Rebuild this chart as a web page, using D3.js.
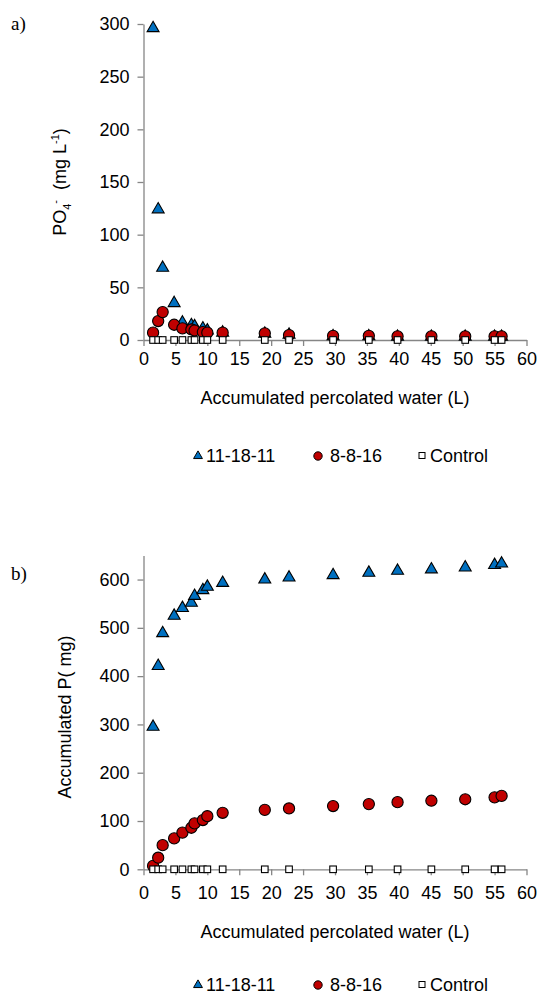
<!DOCTYPE html>
<html>
<head>
<meta charset="utf-8">
<script src="https://cdn.jsdelivr.net/npm/d3@7"></script>
<style>
  body { margin: 0; background: #fff; }
  text { font-family: Arial, "Liberation Sans", sans-serif; fill: #000; }
</style>
</head>
<body>
<div class="c_chart"></div>
<script>
/* DATA
------------------------------------------------------
*/
const water = [1.5, 2.3, 3.0, 4.8, 6.1, 7.5, 8.0, 9.3, 10.0, 12.4, 19.0, 22.8, 29.7, 35.3, 39.8, 45.1, 50.4, 55.0, 56.1];

// panel a, PO4 concentration (mg/L)
const concT = [296, 124, 68.5, 35, 16.5, 14, 13, 11, 9, 7, 6, 5, 3.5, 3.5, 3, 3, 3, 3, 3];
const concC = [7, 18, 26.5, 14.5, 11, 10, 9, 7.5, 7, 7, 6.3, 4.7, 4, 4, 3.5, 3.5, 3.5, 3.5, 3.5];
const concK = [0, 0, 0, 0, 0, 0, 0, 0, 0, 0, 0, 0, 0, 0, 0, 0, 0, 0, 0];

// panel b, accumulated P (mg)
const cumT = [295, 421, 489, 525, 541, 552, 566, 578, 585, 593, 600, 604, 609, 614, 618, 621, 625, 630, 633];
const cumC = [7, 24, 50, 64, 76, 86, 95, 102, 110, 117, 123, 126, 131, 135, 139, 142, 145, 149, 152];
const cumK = [0, 0, 0, 0, 0, 0, 0, 0, 0, 0, 0, 0, 0, 0, 0, 0, 0, 0, 0];

const seriesNames = ["11-18-11", "8-8-16", "Control"];
const xTicks = d3.range(0, 61, 5);

/* SVG
------------------------------------------------------
*/
let svg = d3.select(".c_chart")
	.append("svg")
	.attr("width", 538)
	.attr("height", 995);

const axisColor = "#868686";
const blue = "#0070C0";
const red = "#C00000";
const fs = "18px";

let x = d3.scaleLinear().domain([0, 60]).range([143.5, 526.5]);

function drawPanel(cfg) {
	let y = d3.scaleLinear().domain(cfg.domain).range([cfg.bottom, cfg.top]);
	let g = svg.append("g");

	// axes
	let ax = g.append("g")
		.attr("transform", `translate(0,${cfg.bottom})`)
		.call(d3.axisBottom(x).tickValues(xTicks).tickSize(6).tickSizeOuter(0).tickPadding(cfg.xPad));
	let ay = g.append("g")
		.attr("transform", `translate(${x(0)},0)`)
		.call(d3.axisLeft(y).tickValues(cfg.yTicks).tickSize(6).tickSizeOuter(0).tickPadding(8));
	[ax, ay].forEach(a => {
		a.selectAll("path, line").attr("stroke", axisColor).attr("stroke-width", 1.3);
		a.selectAll("text").style("font-size", fs).attr("fill", "#000");
	});
	ax.selectAll("text").attr("dy", "0.95em");

	// series: triangles, then circles, then control squares on top
	g.selectAll(".tri")
		.data(water.map((w, i) => [w, cfg.t[i]]))
		.enter().append("path")
		.attr("d", d3.symbol(d3.symbolTriangle, 62)())
		.attr("transform", d => `translate(${x(d[0])},${y(d[1])})`)
		.attr("fill", blue).attr("stroke", "#000").attr("stroke-width", 1.1);

	g.selectAll(".circ")
		.data(water.map((w, i) => [w, cfg.c[i]]))
		.enter().append("circle")
		.attr("cx", d => x(d[0])).attr("cy", d => y(d[1])).attr("r", 5.6)
		.attr("fill", red).attr("stroke", "#000").attr("stroke-width", 1.1);

	g.selectAll(".sq")
		.data(water.map((w, i) => [w, cfg.k[i]]))
		.enter().append("rect")
		.attr("x", d => x(d[0]) - 3.3).attr("y", d => y(d[1]) - 3.3)
		.attr("width", 6.6).attr("height", 6.6)
		.attr("fill", "#fff").attr("stroke", "#000").attr("stroke-width", 1.1);

	// x title
	g.append("text")
		.attr("x", x(30)).attr("y", cfg.bottom + cfg.titleOff)
		.attr("text-anchor", "middle")
		.style("font-size", fs)
		.text("Accumulated percolated water (L)");

	// panel letter
	g.append("text")
		.attr("x", 11).attr("y", cfg.letterY)
		.style("font-family", "'Times New Roman', 'Liberation Serif', serif")
		.style("font-size", "19px")
		.text(cfg.letter);

	// legend
	let ly = cfg.legendY;
	let lg = g.append("g");
	lg.append("path")
		.attr("d", d3.symbol(d3.symbolTriangle, 34)())
		.attr("transform", `translate(198,${ly - 1})`)
		.attr("fill", blue).attr("stroke", "#000").attr("stroke-width", 1);
	lg.append("circle").attr("cx", 318).attr("cy", ly - 1).attr("r", 4.2)
		.attr("fill", red).attr("stroke", "#000").attr("stroke-width", 1);
	lg.append("rect").attr("x", 419).attr("y", ly - 4.5).attr("width", 6).attr("height", 6)
		.attr("fill", "#fff").attr("stroke", "#000").attr("stroke-width", 1);
	[[206, seriesNames[0]], [330, seriesNames[1]], [430, seriesNames[2]]].forEach(d => {
		lg.append("text").attr("x", d[0]).attr("y", ly + 5)
			.style("font-size", fs).text(d[1]);
	});

	return y;
}

/* PANEL A
------------------------------------------------------
*/
drawPanel({
	domain: [0, 300], yTicks: d3.range(0, 301, 50),
	top: 24, bottom: 340, xPad: 2, titleOff: 64,
	t: concT, c: concC, k: concK,
	letter: "a)", letterY: 30, legendY: 457
});

let ta = svg.append("text")
	.attr("transform", "translate(66,182) rotate(-90)")
	.attr("text-anchor", "middle")
	.style("font-size", fs);
ta.append("tspan").text("PO");
ta.append("tspan").attr("dy", 5).style("font-size", "11px").text("4");
ta.append("tspan").attr("dy", -12).style("font-size", "11px").text("-");
ta.append("tspan").attr("dy", 7).text("\u00a0 (mg L");
ta.append("tspan").attr("dy", -7).style("font-size", "11px").text("-1");
ta.append("tspan").attr("dy", 7).text(")");

/* PANEL B
------------------------------------------------------
*/
drawPanel({
	domain: [0, 650], yTicks: d3.range(0, 601, 100),
	top: 555.4, bottom: 869.3, xPad: 7, titleOff: 69,
	t: cumT, c: cumC, k: cumK,
	letter: "b)", letterY: 580, legendY: 986
});

svg.append("text")
	.attr("transform", "translate(71,717) rotate(-90)")
	.attr("text-anchor", "middle")
	.style("font-size", fs)
	.text("Accumulated P( mg)");
</script>
</body>
</html>
